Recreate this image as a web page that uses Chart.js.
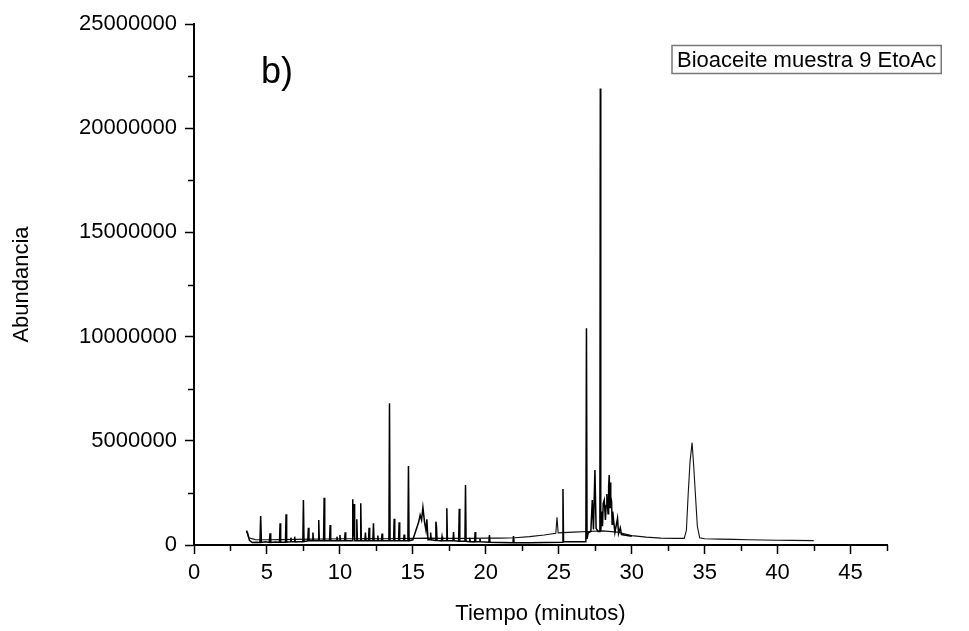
<!DOCTYPE html>
<html>
<head>
<meta charset="utf-8">
<script src="https://cdn.jsdelivr.net/npm/chart.js@4.4.0/dist/chart.umd.min.js"></script>
<style>
  html, body { margin: 0; padding: 0; background: #fff; }
</style>
</head>
<body>
<canvas id="canvas" width="969" height="631"></canvas>
<script>
// muestra 9 - trazo con picos (tiempo en min, abundancia)
var tiempoA = [3.60, 3.68, 3.80, 4.00, 4.30, 4.52, 4.57, 4.62, 4.90, 5.16, 5.21, 5.26, 5.55, 5.86, 5.90, 5.94,
  6.27, 6.31, 6.35, 6.60, 6.64, 6.68, 6.86, 6.90, 6.94, 7.20, 7.46, 7.50, 7.54, 7.80, 7.84, 7.88,
  8.11, 8.15, 8.19, 8.51, 8.55, 8.59, 8.88, 8.92, 8.96, 9.29, 9.33, 9.37, 9.76, 9.80, 9.84,
  9.96, 10.00, 10.04, 10.32, 10.36, 10.40, 10.84, 10.88, 10.92, 10.97, 11.01, 11.12, 11.16, 11.20,
  11.39, 11.43, 11.47, 11.71, 11.75, 11.79, 11.96, 12.00, 12.04, 12.26, 12.30, 12.34, 12.56, 12.60, 12.64,
  12.85, 12.89, 12.93, 13.36, 13.40, 13.44, 13.68, 13.72, 13.76, 14.02, 14.06, 14.10, 14.36, 14.40, 14.44,
  14.66, 14.70, 14.74, 15.00, 15.22, 15.40, 15.50, 15.60, 15.69, 15.80, 15.90, 15.96, 16.04,
  16.18, 16.22, 16.26, 16.54, 16.58, 16.62, 16.66, 16.96, 17.00, 17.04, 17.29, 17.33, 17.37,
  17.75, 17.79, 17.83, 18.14, 18.18, 18.22, 18.57, 18.61, 18.65, 18.86, 18.90, 18.94,
  19.23, 19.27, 19.31, 19.56, 19.60, 19.64, 20.21, 20.25, 20.29, 21.00, 21.86, 21.90, 21.94,
  23.00, 24.00, 25.25, 25.29, 25.33, 26.00, 26.86, 26.90, 26.94, 27.02, 27.20, 27.30, 27.38, 27.48, 27.56,
  27.70, 27.82, 27.85, 27.88, 27.95, 28.00, 28.05, 28.12, 28.20, 28.25, 28.30, 28.38, 28.42, 28.46, 28.52,
  28.55, 28.58, 28.62, 28.66, 28.70, 28.76, 28.85, 29.03, 29.10, 29.22, 29.30, 30.00];
var abundA = [700000, 560000, 220000, 120000, 130000, 120000, 1390000, 120000, 150000, 120000, 560000, 120000, 140000, 130000, 1040000, 130000,
  140000, 1470000, 140000, 150000, 350000, 150000, 150000, 400000, 150000, 160000, 160000, 2160000, 160000, 200000, 830000, 200000,
  200000, 600000, 200000, 200000, 1200000, 200000, 200000, 2270000, 200000, 200000, 960000, 200000, 200000, 400000, 200000,
  200000, 480000, 200000, 200000, 610000, 200000, 200000, 2200000, 400000, 1970000, 200000, 200000, 1230000, 200000,
  200000, 2000000, 200000, 200000, 600000, 200000, 200000, 830000, 200000, 200000, 1040000, 200000, 200000, 450000, 200000,
  200000, 550000, 200000, 200000, 6800000, 200000, 200000, 1260000, 200000, 200000, 1090000, 200000, 200000, 500000, 200000,
  200000, 3790000, 200000, 250000, 720000, 1100000, 1440000, 1200000, 1810000, 1100000, 700000, 1230000, 250000,
  250000, 600000, 250000, 220000, 1120000, 900000, 220000, 200000, 400000, 200000, 200000, 1760000, 200000,
  200000, 620000, 200000, 180000, 1740000, 180000, 180000, 2880000, 180000, 160000, 350000, 160000,
  150000, 620000, 150000, 150000, 300000, 150000, 130000, 480000, 130000, 120000, 110000, 430000, 110000,
  110000, 120000, 130000, 2690000, 150000, 150000, 160000, 10400000, 300000, 580000, 650000, 2160000, 750000, 3600000, 800000,
  650000, 650000, 21900000, 650000, 1600000, 900000, 2000000, 2160000, 1200000, 1900000, 2450000, 1500000, 2800000, 3360000, 1800000,
  3000000, 2320000, 2100000, 1000000, 1600000, 1200000, 600000, 1280000, 550000, 830000, 500000, 420000];

// segundo trazo (linea base con joroba y pico a 34 min)
var tiempoB = [3.60, 3.75, 4.20, 5.00, 6.00, 7.00, 8.00, 9.00, 10.00, 11.00, 12.00, 13.00, 14.00, 15.00, 16.00, 17.00,
  18.00, 19.00, 20.00, 21.00, 22.00, 23.00, 24.00, 24.80, 24.88, 24.96, 26.00, 27.00, 28.00, 29.00, 30.00,
  31.00, 32.00, 33.00, 33.60, 33.75, 33.87, 34.00, 34.14, 34.25, 34.37, 34.50, 34.66, 35.00, 36.00,
  37.00, 38.00, 39.00, 40.00, 41.00, 42.48];
var abundB = [650000, 350000, 260000, 250000, 260000, 270000, 280000, 290000, 300000, 300000, 310000, 300000, 310000, 320000, 330000, 320000,
  320000, 320000, 330000, 330000, 350000, 400000, 480000, 560000, 1330000, 580000, 620000, 650000, 680000, 620000, 450000,
  380000, 330000, 320000, 320000, 700000, 2400000, 4000000, 4910000, 3800000, 2400000, 900000, 350000, 300000, 280000,
  270000, 250000, 240000, 230000, 220000, 210000];

var xTicks = [0, 2.5, 5, 7.5, 10, 12.5, 15, 17.5, 20, 22.5, 25, 27.5, 30, 32.5, 35, 37.5, 40, 42.5, 45, 47.5];
var yTicks = [0, 2500000, 5000000, 7500000, 10000000, 12500000, 15000000, 17500000, 20000000, 22500000, 25000000];

var serieA = tiempoA.map(function (t, i) { return { x: t, y: abundA[i] }; });
var serieB = tiempoB.map(function (t, i) { return { x: t, y: abundB[i] }; });

Chart.defaults.font.family = "'Liberation Sans', Arial, sans-serif";
Chart.defaults.color = '#000';

function esMayor(v, paso) { return Math.abs(v / paso - Math.round(v / paso)) < 1e-6; }

// marcas menores mas cortas + texto "b)" + cuadro de leyenda
var extras = {
  id: 'extras',
  afterDraw: function (chart) {
    var ctx = chart.ctx, xs = chart.scales.x, ys = chart.scales.y;
    ctx.save();
    ctx.strokeStyle = '#000';
    ctx.lineWidth = 1.5;
    xTicks.forEach(function (v) {
      if (esMayor(v, 5)) return;
      var px = Math.round(xs.getPixelForValue(v)) + 0.5;
      ctx.beginPath(); ctx.moveTo(px, xs.top); ctx.lineTo(px, xs.top + 6); ctx.stroke();
    });
    yTicks.forEach(function (v) {
      if (esMayor(v, 5000000)) return;
      var py = Math.round(ys.getPixelForValue(v)) + 0.5;
      ctx.beginPath(); ctx.moveTo(ys.right, py); ctx.lineTo(ys.right - 6, py); ctx.stroke();
    });

    ctx.fillStyle = '#000';
    ctx.font = "36px 'Liberation Sans', Arial, sans-serif";
    ctx.textBaseline = 'alphabetic';
    ctx.fillText('b)', 261, 83);

    var txt = 'Bioaceite muestra 9 EtoAc';
    ctx.font = "22px 'Liberation Sans', Arial, sans-serif";
    var w = ctx.measureText(txt).width;
    ctx.fillText(txt, 677, 67);
    ctx.strokeStyle = '#777';
    ctx.lineWidth = 1.5;
    ctx.strokeRect(672, 45.5, w + 10, 28);
    ctx.restore();
  }
};

var config = {
  type: 'scatter',
  data: {
    datasets: [
      { label: 'A', data: serieA, showLine: true, borderColor: '#000', borderWidth: 1.5, pointRadius: 0, tension: 0 },
      { label: 'B', data: serieB, showLine: true, borderColor: '#111', borderWidth: 1.1, pointRadius: 0, tension: 0 }
    ]
  },
  options: {
    responsive: false,
    animation: false,
    layout: { padding: { top: 24, right: 82, bottom: 0, left: 0 } },
    plugins: { legend: { display: false }, tooltip: { enabled: false } },
    scales: {
      x: {
        type: 'linear', min: 0, max: 47.5,
        afterBuildTicks: function (s) { s.ticks = xTicks.map(function (v) { return { value: v }; }); },
        afterFit: function (s) { s.height = 86; },
        ticks: {
          autoSkip: false, maxRotation: 0, padding: 6,
          font: { size: 22 },
          callback: function (v) { return esMayor(v, 5) ? String(v) : ''; }
        },
        grid: {
          drawOnChartArea: false, tickLength: 9, tickWidth: 1.5,
          tickColor: function (c) { return c.tick && esMayor(c.tick.value, 5) ? '#000' : 'rgba(0,0,0,0)'; }
        },
        border: { color: '#000', width: 2 },
        title: { display: true, text: 'Tiempo (minutos)', font: { size: 22 }, padding: { top: 0, bottom: 4 } }
      },
      y: {
        type: 'linear', min: 0, max: 25000000,
        afterBuildTicks: function (s) { s.ticks = yTicks.map(function (v) { return { value: v }; }); },
        afterFit: function (s) { s.width = 194; },
        ticks: {
          autoSkip: false, padding: 8,
          font: { size: 22 },
          callback: function (v) { return esMayor(v, 5000000) ? String(v) : ''; }
        },
        grid: {
          drawOnChartArea: false, tickLength: 9, tickWidth: 1.5,
          tickColor: function (c) { return c.tick && esMayor(c.tick.value, 5000000) ? '#000' : 'rgba(0,0,0,0)'; }
        },
        border: { color: '#000', width: 2 },
        title: { display: true, text: 'Abundancia', font: { size: 22 }, padding: { top: 9, bottom: 0 } }
      }
    }
  },
  plugins: [extras]
};

var chromChart = new Chart(document.getElementById('canvas'), config);
</script>
</body>
</html>
